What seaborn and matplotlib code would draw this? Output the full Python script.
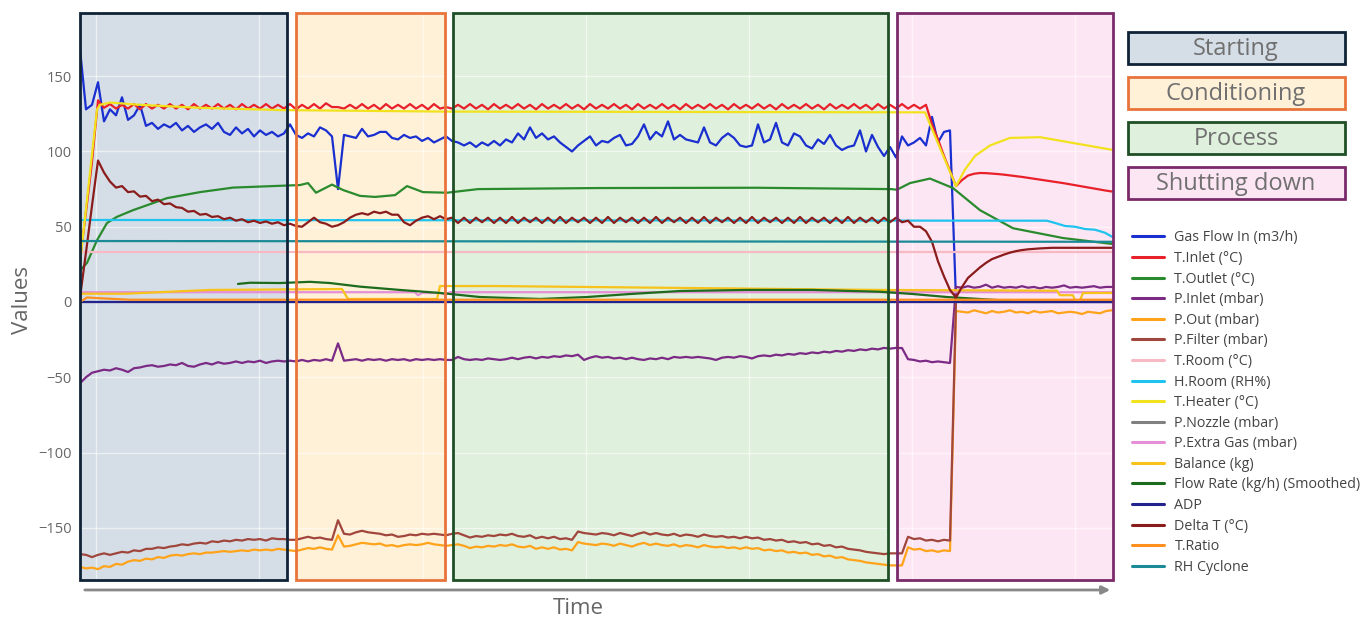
import numpy as np
import pandas as pd
import seaborn as sns
import matplotlib.pyplot as plt
from matplotlib.patches import Rectangle

# Tiempo en segundos: las señales ruidosas se registran cada 60 s
paso_s = 60

gas_flow_in = [
    168, 128, 131, 146, 120, 128, 124, 136, 121, 124,
    131, 117, 119, 115, 118, 116, 119, 114, 117, 113,
    116, 118, 115, 119, 113, 111, 116, 112, 115, 110,
    114, 111, 113, 110, 112, 118, 111, 109, 112, 110,
    116, 114, 110, 75, 111, 110, 109, 115, 110, 111,
    113, 113, 109, 108, 111, 109, 110, 107, 109, 106,
    108, 110, 107, 106, 104, 106, 103, 106, 104, 107,
    104, 108, 106, 112, 108, 116, 109, 112, 108, 110,
    106, 103, 100, 104, 107, 110, 104, 107, 106, 109,
    111, 104, 105, 110, 118, 108, 113, 110, 120, 108,
    111, 108, 107, 106, 116, 106, 104, 109, 112, 109,
    104, 103, 104, 118, 106, 108, 119, 106, 104, 112,
    110, 104, 102, 108, 105, 111, 104, 101, 103, 104,
    114, 100, 111, 103, 97, 103, 96, 110, 104, 106,
    109, 104, 123, 106, 113, 114, 1, 0, 0, 0,
    0, 0, 0, 0, 0, 0, 0, 0, 0, 0,
    0, 0, 0, 0, 0, 0, 0, 0, 0, 0,
    0, 0, 0,
]

t_inlet = [
    28, 60, 93, 134, 129, 131.5, 128.5, 131, 128.5, 131.5,
    128, 131.5, 128.5, 131, 128.5, 131.5, 128.5, 131, 128, 131.5,
    128.5, 131, 128.5, 131.5, 128.5, 131, 128, 131.5, 128.5, 131,
    128.5, 131.5, 128.5, 131, 128.5, 131.5, 128, 131, 128.5, 131.5,
    128.5, 132, 129.5, 129.5, 128.5, 131, 128.5, 131.5, 128.5, 131,
    128, 131.5, 128.5, 131, 128.5, 131.5, 128.5, 131, 128, 131.5,
    128.5, 129.5, 128.5, 131, 128.5, 131.5, 128.5, 131, 128, 131.5,
    128.5, 131, 128.5, 131.5, 128.5, 131, 128, 131.5, 128.5, 131,
    128.5, 131.5, 128.5, 131, 128, 131.5, 128.5, 131, 128.5, 131.5,
    128.5, 131, 128, 131.5, 128.5, 131, 128.5, 131.5, 128.5, 131,
    128, 131.5, 128.5, 131, 128.5, 131.5, 128.5, 131, 128, 131.5,
    128.5, 131, 128.5, 131.5, 128.5, 131, 128, 131.5, 128.5, 131,
    128.5, 131.5, 128.5, 131, 128, 131.5, 128.5, 131, 128.5, 131.5,
    128.5, 131, 128, 131.5, 128.5, 131, 128.5, 131.5, 128.5, 131,
    128.5, 131, 118, 108, 97, 87, 77, 81, 84, 85.2,
    85.7, 85.6, 85.3, 85, 84.6, 84.1, 83.6, 83.1, 82.5, 81.9,
    81.3, 80.7, 80.1, 79.5, 78.9, 78.2, 77.5, 76.8, 76.1, 75.4,
    74.7, 74, 73.4,
]

delta_t = [
    3, 33, 64, 94, 86, 80, 76, 77, 73, 73.5,
    70, 70.5, 67, 68, 65, 65.5, 63, 62.5, 60, 60.5,
    58, 58.5, 56.5, 57, 55, 56, 54, 55, 53, 54,
    52.5, 53.5, 52, 53, 51, 52, 50.5, 50, 53, 56,
    53, 52, 50, 51, 53, 56, 58, 59, 58, 60,
    59, 60, 58, 58, 53, 51, 54, 56, 57, 55,
    57, 55, 56, 52.5, 56, 52.5, 56, 53, 56, 52.5,
    56, 52.5, 56.5, 52.5, 56, 53, 56, 52.5, 56, 52.5,
    56.5, 52.5, 56, 53, 56, 52.5, 56, 52.5, 56.5, 52.5,
    56, 53, 56, 52.5, 56, 52.5, 56.5, 52.5, 56, 53,
    56, 52.5, 56, 52.5, 56.5, 52.5, 56, 53, 56, 52.5,
    56, 52.5, 56.5, 52.5, 56, 53, 56, 52.5, 56, 52.5,
    56.5, 52.5, 56, 53, 56, 52.5, 56, 52.5, 56.5, 52.5,
    56, 53, 56, 52.5, 56, 53, 56, 53, 54, 50,
    50, 47, 40, 27, 17, 8, 3, 10, 16, 19.5,
    23, 26, 28.5, 30, 31.5, 32.8, 33.8, 34.5, 35, 35.3,
    35.6, 35.8, 36, 36, 36, 36, 36, 36, 36, 36,
    36, 36, 36,
]

p_inlet = [
    -54, -50, -47, -46, -45, -45.5, -44, -45, -46.5, -44,
    -43.5, -42.5, -42, -43, -42.5, -41.5, -42, -40.5, -42.5, -43,
    -41.5, -40.5, -41.5, -40, -41, -40.5, -39.5, -40.5, -39.5, -40,
    -39, -40.5, -39.5, -39, -39.5, -39, -39.5, -38.5, -39.5, -38.5,
    -39, -38, -39, -27.5, -39, -38.5, -38, -39, -38, -38.5,
    -38, -39, -38, -38.5, -38, -39, -38, -38.5, -38, -38.5,
    -38, -38.5, -38.5, -36.5, -38, -38.5, -38, -38.5, -37.5, -38,
    -38.5, -38, -37, -38, -37, -36.5, -37.5, -36.5, -37, -36,
    -36.5, -35.5, -36, -35, -38.5, -37, -36, -37, -36.5, -37.5,
    -37, -38, -37, -38, -38.5, -37.5, -38, -37, -38, -36.5,
    -37, -36.5, -37, -36.5, -37, -37.5, -38.5, -37, -36.5, -37,
    -36, -36.5, -37.5, -36, -35.5, -36, -35, -35.5, -34.5, -35,
    -34, -34.5, -33.5, -34, -33, -33.5, -32.5, -33, -32, -32.5,
    -31.5, -32, -31, -31.5, -30.5, -31, -30.5, -30.6, -38, -38.5,
    -39.5, -39, -40, -39.5, -40, -40.5, 10, 9.5, 10.5, 9.5,
    10, 11.5, 9.5, 10.5, 9.5, 10, 9.5, 10.5, 9.5, 10,
    9, 10, 9.5, 10, 11, 9.5, 10, 9.5, 10, 10.5,
    9.5, 10, 10,
]

p_filter = [
    -167.5, -168, -169.5, -168, -167, -168, -167, -166, -166.5, -165,
    -165.5, -164, -164, -163, -163.5, -162.5, -162, -161, -161.5, -160.5,
    -160, -160.5, -159, -159.5, -158.5, -159, -158, -158.5, -157.5, -158,
    -157.5, -158.5, -157, -157.5, -157.5, -158, -158, -157, -156, -157,
    -156.5, -157.5, -158, -145, -154, -154.5, -153, -152, -153, -153.5,
    -154, -155, -154.5, -156, -155.5, -154.5, -155, -154, -154.5, -154,
    -154.5, -155, -154, -153.5, -155, -156.5, -155.5, -156, -155, -155.5,
    -154.5, -155, -154, -155.5, -156, -155, -157, -156, -157, -156,
    -157.5, -157, -158, -152.5, -153.5, -154, -154.5, -153.5, -154, -155,
    -153.5, -154.5, -155.5, -154, -153, -154.5, -153.5, -154.5, -155, -154,
    -155.5, -154.5, -155, -156, -154.5, -155.5, -156, -155.5, -156.5, -156,
    -157, -156, -157, -156.5, -158, -157.5, -158.5, -158, -159.5, -159,
    -160, -159.5, -161, -160.5, -162, -161.5, -163, -162.5, -164, -164.5,
    -165, -166, -166.5, -167, -167.5, -167, -167, -167, -156, -157.5,
    -157, -158.5, -158, -159, -158, -158.5, 1, 0.5, 0.5, 0.5,
    0.5, 0.5, 0.5, 0.5, 0.5, 0.5, 0.5, 0.5, 0.5, 0.5,
    0.5, 0.5, 0.5, 0.5, 0.5, 0.5, 0.5, 0.5, 0.5, 0.5,
    0.5, 0.5, 0.5,
]

p_out = [
    -176, -177, -176.5, -177.5, -175.5, -176, -174, -174.5, -172.5, -171.5,
    -172, -170.5, -171, -169.5, -170, -168.5, -168, -168.5, -167.5, -167,
    -167.5, -166.5, -166.5, -166, -165.5, -166, -165.5, -165, -165.5, -164.5,
    -165, -164.5, -165, -164, -164.5, -165, -165.5, -164.5, -163.5, -164,
    -163, -164, -164.5, -155, -162.5, -162, -161, -160, -160.5, -161,
    -160.5, -162, -161.5, -162.5, -161.5, -161, -161.5, -161, -160, -161,
    -161.5, -162, -161.5, -161, -162, -163.5, -162.5, -163, -162, -162.5,
    -161.5, -162, -161, -162.5, -163, -162, -164, -163, -164, -163,
    -164.5, -164, -165, -159.5, -160.5, -161, -161.5, -160.5, -161, -162,
    -160.5, -161.5, -162.5, -161, -160, -161.5, -160.5, -161.5, -162, -161,
    -162.5, -161.5, -162, -163, -161.5, -162.5, -163, -162.5, -163.5, -163,
    -164, -163, -164, -163.5, -165, -164.5, -165.5, -165, -166.5, -166,
    -167, -166.5, -168, -167.5, -169, -168.5, -170, -169.5, -171, -171.5,
    -172, -173, -173.5, -174, -174.5, -175, -175, -175, -163, -164.5,
    -164, -165.5, -165, -166, -165, -165.5, -6, -6.5, -7, -5.5,
    -6.5, -7.5, -6, -7, -6.5, -5.5, -7, -6.5, -7.5, -6,
    -7, -6.5, -6, -7.5, -7, -6.5, -7, -8, -6.5, -7,
    -7.5, -6, -5.5,
]

# Señales suaves: puntos de quiebre (tiempo en s, valor)
t_outlet_t = [0, 70, 170, 270, 370, 530, 870, 1200, 1530, 2200, 2280, 2360, 2520, 2630,
              2800, 2950, 3150, 3270, 3430, 3670, 3980, 5170, 6760, 8110, 8170, 8300,
              8500, 8730, 9000, 9330, 9830, 10330]
t_outlet_v = [21, 26, 41, 52.5, 56.6, 61, 69, 73, 76, 77.7, 79, 72.6, 78, 74.4,
              70.5, 69.8, 71, 77, 73, 72.6, 75, 75.7, 75.9, 75, 74.6, 79,
              82, 75.7, 61, 49, 42.5, 38.5]

t_heater_t = [0, 170, 200, 300, 600, 1200, 2000, 3650, 8450, 8760, 8850, 8950, 9100, 9300, 9600, 10330]
t_heater_v = [26, 128, 131, 132.5, 131, 129, 127.5, 126.5, 126, 77, 88, 97, 104, 109, 109.5, 101]

h_room_t = [0, 9670, 9750, 9850, 9950, 10050, 10150, 10250, 10330]
h_room_v = [54.5, 54, 52.5, 50.5, 50, 48.5, 48, 46, 43]

t_room_t = [0, 10330]
t_room_v = [33.5, 33.5]

rh_cyclone_t = [0, 10330]
rh_cyclone_v = [40.5, 40]

adp_t = [0, 10330]
adp_v = [0, 0]

p_nozzle_t = [0, 10330]
p_nozzle_v = [0.3, 0.3]

t_ratio_t = [0, 70, 200, 500, 10330]
t_ratio_v = [0, 3, 2.5, 1.5, 1.5]

p_extra_t = [0, 3350, 3380, 3420, 3600, 3650, 3700, 10330]
p_extra_v = [6.5, 6.5, 4.5, 6, 6, 5, 6.5, 6.5]

balance_t = [0, 450, 1300, 2620, 2680, 3570, 3600, 4150, 8000, 9770, 9800, 9930, 9950, 10000, 10030, 10330]
balance_v = [5.5, 5.5, 8, 8.6, 2, 2, 10.6, 10.6, 8, 7.5, 4.5, 4.5, 1, 1, 6, 6]

flow_rate_t = [1580, 1700, 2000, 2300, 2500, 2800, 3200, 3600, 4000, 4600, 5070, 5500, 6000,
               6670, 7330, 8000, 8330, 8670, 9170, 9300]
flow_rate_v = [12, 12.8, 12.6, 13.4, 12.6, 10.2, 8, 6, 3.3, 2, 3.3, 5.3, 7.3,
               8, 8, 6.8, 5.3, 3.3, 1.3, 1]

# Fases del proceso
fases = ["Starting", "Conditioning", "Process", "Shutting down"]
fase_inicio = [0, 2160, 3730, 8170]
fase_fin = [2070, 3650, 8080, 10330]


def tiempos_muestreo(valores):
    return [i * paso_s for i in range(len(valores))]


# Orden y colores de las series (como en la leyenda)
series = [
    ("Gas Flow In (m3/h)", tiempos_muestreo(gas_flow_in), gas_flow_in, "#1a2fd0"),
    ("T.Inlet (°C)", tiempos_muestreo(t_inlet), t_inlet, "#e8202a"),
    ("T.Outlet (°C)", t_outlet_t, t_outlet_v, "#2a8a2e"),
    ("P.Inlet (mbar)", tiempos_muestreo(p_inlet), p_inlet, "#7b2a85"),
    ("P.Out (mbar)", tiempos_muestreo(p_out), p_out, "#ffa31a"),
    ("P.Filter (mbar)", tiempos_muestreo(p_filter), p_filter, "#a0463c"),
    ("T.Room (°C)", t_room_t, t_room_v, "#f7b9c4"),
    ("H.Room (RH%)", h_room_t, h_room_v, "#1fc3ee"),
    ("T.Heater (°C)", t_heater_t, t_heater_v, "#f2e21e"),
    ("P.Nozzle (mbar)", p_nozzle_t, p_nozzle_v, "#808080"),
    ("P.Extra Gas (mbar)", p_extra_t, p_extra_v, "#e58fd6"),
    ("Balance (kg)", balance_t, balance_v, "#f7c21a"),
    ("Flow Rate (kg/h) (Smoothed)", flow_rate_t, flow_rate_v, "#1d6b1d"),
    ("ADP", adp_t, adp_v, "#23238e"),
    ("Delta T (°C)", tiempos_muestreo(delta_t), delta_t, "#8a1c1c"),
    ("T.Ratio", t_ratio_t, t_ratio_v, "#ff8f1f"),
    ("RH Cyclone", rh_cyclone_t, rh_cyclone_v, "#1a8a96"),
]

# Armamos un dataframe largo para seaborn
df = pd.concat([pd.DataFrame({"time": t, "value": v, "series": nombre})
                for nombre, t, v, _ in series], ignore_index=True)
orden = [s[0] for s in series]
paleta = {s[0]: s[3] for s in series}

sns.set_theme(style="white")
plt.rcParams["font.family"] = ["Open Sans", "DejaVu Sans"]

fig = plt.figure(figsize=(13.67, 6.19), dpi=100)
ax = fig.add_axes([80 / 1367, 39 / 619, 1033 / 1367, 567 / 619])

rellenos = ["#d5dee6", "#fff0d8", "#dff0dc", "#fde6f3"]
bordes = ["#0f2337", "#e8743b", "#1f4f25", "#7a2a6a"]

# Cajas de fases: relleno debajo, borde encima
for x0, x1, rel, bor in zip(fase_inicio, fase_fin, rellenos, bordes):
    ax.axvspan(x0, x1, facecolor=rel, edgecolor="none", zorder=0.2)
    ax.axvspan(x0, x1, facecolor="none", edgecolor=bor, lw=2, zorder=6, clip_on=False)

sns.lineplot(data=df, x="time", y="value", hue="series", hue_order=orden,
             palette=paleta, estimator=None, sort=False, linewidth=1.6, ax=ax)

ax.set_xlim(0, 10330)
ax.set_ylim(-184.7, 192)
ax.set_yticks([-150, -100, -50, 0, 50, 100, 150])
ax.set_xticks([160, 1790, 3430, 5060, 6690, 8320, 9950])
ax.set_xticklabels([])
ax.tick_params(axis="both", length=0)
ax.tick_params(axis="y", labelsize=10.5, labelcolor="#666666", pad=6)
ax.set_axisbelow(True)
ax.grid(True, color="white", alpha=0.55, lw=1)
ax.set_xlabel("")
ax.set_ylabel("")
for s in ax.spines.values():
    s.set_visible(False)

# Flecha del eje del tiempo
ax.annotate("", xy=(1.0, -0.0176), xytext=(0.002, -0.0176), xycoords="axes fraction",
            arrowprops=dict(arrowstyle="-|>", color="#888888", lw=2, mutation_scale=12))

fig.text(22 / 1367, 1 - 300 / 619, "Values", rotation=90, fontsize=16,
         color="#666666", ha="center", va="center")
fig.text(578 / 1367, 1 - 608 / 619, "Time", fontsize=16,
         color="#666666", ha="center", va="center")

# Leyenda de las series
sns.move_legend(ax, "upper left", bbox_to_anchor=(1.0145, 0.624), frameon=False,
                title=None, fontsize=10.3, handlelength=2.25, handletextpad=0.7,
                labelspacing=0.39, borderpad=0.3, borderaxespad=0)
leg = ax.get_legend()
for txt in leg.get_texts():
    txt.set_color("#444444")
for ln in leg.get_lines():
    ln.set_linewidth(2.2)

# Leyenda de las fases (cajas a la derecha)
for i, (nombre, rel, bor) in enumerate(zip(fases, rellenos, bordes)):
    top = 32 + 45 * i
    fig.patches.append(Rectangle((1128 / 1367, 1 - (top + 32) / 619), 217 / 1367, 32 / 619,
                                 transform=fig.transFigure, facecolor=rel,
                                 edgecolor=bor, lw=2))
    fig.text((1128 + 108) / 1367, 1 - (top + 17) / 619, nombre, fontsize=17,
             color="#707070", ha="center", va="center")

fig.savefig("out.png", dpi=100)
